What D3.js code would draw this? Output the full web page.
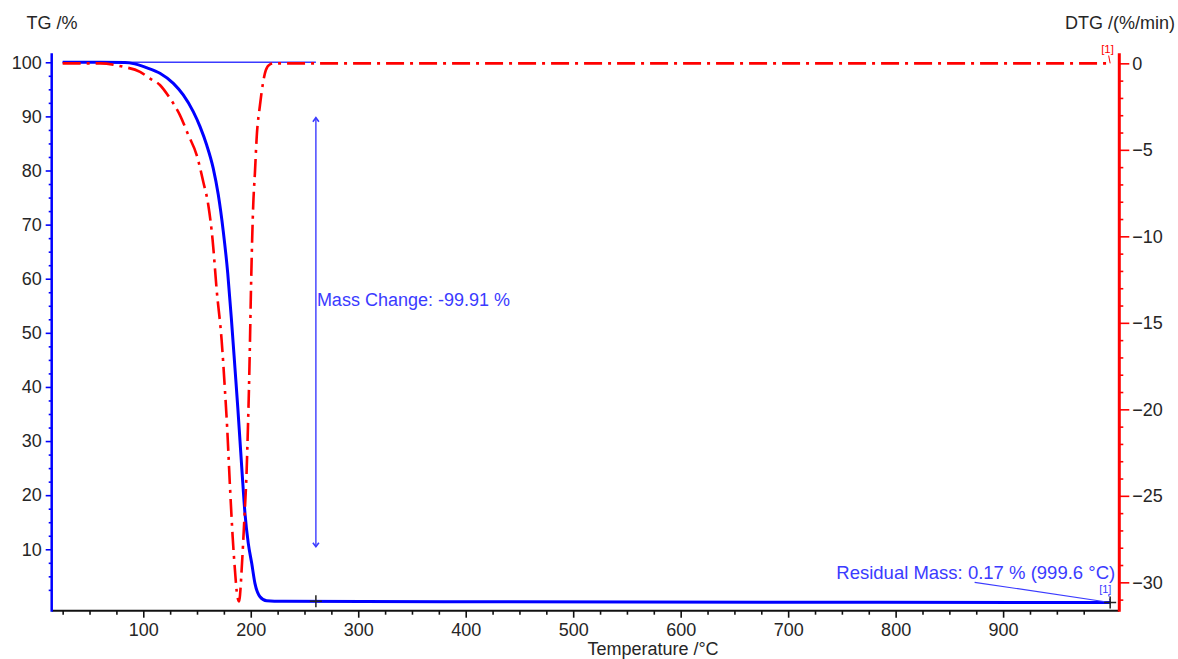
<!DOCTYPE html>
<html>
<head>
<meta charset="utf-8">
<script src="https://cdn.jsdelivr.net/npm/d3@7"></script>
<style>
  html, body { margin: 0; padding: 0; background: #fff; }
  svg { display: block; font-family: "Liberation Sans", Arial, sans-serif; }
</style>
</head>
<body>
<svg id="chart" width="1178" height="659"></svg>
<script>
// ---------------- data ----------------
const tgTemp = [25, 60, 83, 92, 103, 115.5, 128, 137.2, 146.5, 152.8, 159, 165.1, 169.8, 174.4, 178.6, 182.2, 185.3, 188, 190, 192, 194.6, 197.7, 200.9, 203.9, 208.6, 214.8, 230, 400, 700, 1000];
const tgValue = [100, 100, 99.95, 99.7, 99.0, 97.97, 96.1, 93.96, 90.87, 88.1, 84.7, 80.4, 75.5, 68.8, 61.0, 52.0, 43.5, 36.0, 30.0, 24.0, 16.7, 11.1, 7.4, 3.7, 1.24, 0.5, 0.4, 0.3, 0.22, 0.17];

const dtgTemp = [25, 60, 81.4, 97, 106, 115.5, 124.8, 134.1, 141.9, 149.7, 155.8, 160.5, 164.5, 168.3, 172.9, 176, 178, 180.7, 183.2, 185.3, 187.5, 189.3, 190.2, 191.5, 194, 196.2, 197.4, 198.3, 199.3, 200.2, 201.3, 202.3, 203.9, 205.5, 208.6, 211.6, 214, 217.9, 222, 1000];
const dtgValue = [0, 0, -0.2, -0.49, -0.87, -1.25, -2.02, -2.99, -4.14, -5.3, -6.84, -8.19, -10.2, -13.1, -16.0, -18.9, -21.0, -24.5, -27.4, -29.3, -30.8, -31.1, -30.6, -29.3, -26.4, -23.5, -21.0, -18.9, -16.0, -13.1, -10.2, -8.2, -6.3, -4.3, -2.41, -1.06, -0.4, -0.06, 0, 0];

const xMajorTicks = [100, 200, 300, 400, 500, 600, 700, 800, 900];
const tgMajorTicks = [10, 20, 30, 40, 50, 60, 70, 80, 90, 100];
const dtgMajorTicks = [0, -5, -10, -15, -20, -25, -30];

const xDomain = [14.8, 1008.1];
const tgDomain = [-1.35, 101.66];
const dtgDomain = [-31.64, 0.58];

// annotations
const massChangeT = 260.6;
const massChangeFrom = 89.76;
const massChangeTo = 10.48;
const massChangeLabel = "Mass Change: -99.91 %";
const massChangeRefStart = 25;
const residualT = 999.6;
const residualTG = 0.17;
const residualLabel = "Residual Mass: 0.17 % (999.6 °C)";

// ---------------- layout ----------------
const svg = d3.select("#chart");
const L = 51.7, R = 1119.3, T = 53.3, B = 610.7;
const annColor = "#3b3bff";
const textColor = "#262626";

const x = d3.scaleLinear().domain(xDomain).range([L, R]);
const yL = d3.scaleLinear().domain(tgDomain).range([B, T]);
const yR = d3.scaleLinear().domain(dtgDomain).range([B, T]);

// minor tick values
const xMinor = d3.range(25, 1000, 25).filter(v => v % 100 !== 0);
const tgMinor = d3.range(0, 101, 2.5).filter(v => v % 10 !== 0);
const dtgMinor = d3.range(0, -32, -1).filter(v => v % 5 !== 0);

function styleAxis(g, color) {
  g.select(".domain").remove();
  g.selectAll(".tick line").attr("stroke", color).attr("stroke-width", 1.6);
  g.selectAll(".tick text").attr("fill", textColor).attr("font-size", 18)
    .attr("font-family", '"Liberation Sans", Arial, sans-serif');
}

// bottom axis
svg.append("g").attr("transform", `translate(0,${B})`)
  .call(d3.axisBottom(x).tickValues(xMinor).tickSize(4).tickFormat(""))
  .call(g => styleAxis(g, "#111"));
svg.append("g").attr("transform", `translate(0,${B})`)
  .call(d3.axisBottom(x).tickValues(xMajorTicks).tickSize(7).tickPadding(6).tickFormat(d3.format("d")))
  .call(g => styleAxis(g, "#111"));

// left axis
svg.append("g").attr("transform", `translate(${L},0)`)
  .call(d3.axisLeft(yL).tickValues(tgMinor).tickSize(3).tickFormat(""))
  .call(g => styleAxis(g, "#0000ff"));
svg.append("g").attr("transform", `translate(${L},0)`)
  .call(d3.axisLeft(yL).tickValues(tgMajorTicks).tickSize(6).tickPadding(4).tickFormat(d3.format("d")))
  .call(g => styleAxis(g, "#0000ff"));

// right axis
svg.append("g").attr("transform", `translate(${R},0)`)
  .call(d3.axisRight(yR).tickValues(dtgMinor).tickSize(4).tickFormat(""))
  .call(g => styleAxis(g, "#ff0000"));
svg.append("g").attr("transform", `translate(${R},0)`)
  .call(d3.axisRight(yR).tickValues(dtgMajorTicks).tickSize(10).tickPadding(3).tickFormat(d => d === 0 ? "0" : d3.format("d")(d)))
  .call(g => styleAxis(g, "#ff0000"));

// axis lines
svg.append("line").attr("x1", L).attr("x2", R).attr("y1", B).attr("y2", B)
  .attr("stroke", "#111").attr("stroke-width", 2);
svg.append("line").attr("x1", L).attr("x2", L).attr("y1", T).attr("y2", B + 1)
  .attr("stroke", "#0000ff").attr("stroke-width", 2.5);
svg.append("line").attr("x1", R).attr("x2", R).attr("y1", T).attr("y2", B + 1)
  .attr("stroke", "#ff0000").attr("stroke-width", 3);

// axis titles
svg.append("text").attr("x", 26.5).attr("y", 28.5).text("TG /%")
  .attr("font-size", 18).attr("fill", textColor);
svg.append("text").attr("x", 1065).attr("y", 28.5).text("DTG /(%/min)")
  .attr("font-size", 18).attr("fill", textColor);
svg.append("text").attr("x", 653).attr("y", 654.5).attr("text-anchor", "middle")
  .text("Temperature /°C").attr("font-size", 18).attr("fill", textColor);

// mass change reference line at 100 %
svg.append("line")
  .attr("x1", x(massChangeRefStart)).attr("x2", x(massChangeT))
  .attr("y1", yL(100)).attr("y2", yL(100))
  .attr("stroke", annColor).attr("stroke-width", 1.4);

// TG curve
const tgData = tgTemp.map((t, i) => [t, tgValue[i]]);
svg.append("path").datum(tgData)
  .attr("d", d3.line().x(d => x(d[0])).y(d => yL(d[1])).curve(d3.curveMonotoneX))
  .attr("fill", "none").attr("stroke", "#0000ff").attr("stroke-width", 3);

// DTG curve
const dtgData = dtgTemp.map((t, i) => [t, dtgValue[i]]);
svg.append("path").datum(dtgData)
  .attr("d", d3.line().x(d => x(d[0])).y(d => yR(d[1])).curve(d3.curveMonotoneX))
  .attr("fill", "none").attr("stroke", "#ff0000").attr("stroke-width", 2.6)
  .attr("stroke-dasharray", "18,6,3,6");

// mass change arrow
const mx = x(massChangeT), myTop = yL(massChangeFrom), myBot = yL(massChangeTo);
svg.append("line").attr("x1", mx).attr("x2", mx).attr("y1", myTop).attr("y2", myBot)
  .attr("stroke", annColor).attr("stroke-width", 1.4);
svg.append("path").attr("d", `M${mx - 3},${myTop + 4} L${mx},${myTop} L${mx + 3},${myTop + 4}`)
  .attr("fill", "none").attr("stroke", annColor).attr("stroke-width", 1.6);
svg.append("path").attr("d", `M${mx - 3},${myBot - 4} L${mx},${myBot} L${mx + 3},${myBot - 4}`)
  .attr("fill", "none").attr("stroke", annColor).attr("stroke-width", 1.6);
svg.append("text").attr("x", mx + 1).attr("y", yL(55)).text(massChangeLabel)
  .attr("font-size", 18).attr("fill", annColor);

// crosshairs
function cross(cx, cy) {
  svg.append("path").attr("d", `M${cx - 6},${cy} H${cx + 6} M${cx},${cy - 6} V${cy + 6}`)
    .attr("stroke", "#222").attr("stroke-width", 1.5);
}
cross(mx, yL(0.4));
const rx = x(residualT), ry = yL(residualTG);

// residual annotation
svg.append("line").attr("x1", x(873.5)).attr("y1", yL(3.9)).attr("x2", rx).attr("y2", ry)
  .attr("stroke", annColor).attr("stroke-width", 1.2);
svg.append("text").attr("x", rx + 5).attr("y", yL(4.5)).attr("text-anchor", "end")
  .text(residualLabel).attr("font-size", 18.5).attr("fill", annColor);
svg.append("text").attr("x", rx - 11).attr("y", yL(1.9)).text("[1]")
  .attr("font-size", 11).attr("fill", annColor);
svg.append("line").attr("x1", rx - 1.5).attr("y1", yL(1.6)).attr("x2", rx).attr("y2", ry)
  .attr("stroke", annColor).attr("stroke-width", 1).attr("stroke-dasharray", "2,2");
cross(rx, ry);

// DTG marker [1]
svg.append("text").attr("x", rx - 9).attr("y", yR(0.62)).text("[1]")
  .attr("font-size", 11.5).attr("fill", "#ff0000");
svg.append("line").attr("x1", rx - 1.5).attr("y1", yR(0.45)).attr("x2", rx).attr("y2", yR(0))
  .attr("stroke", "#ff0000").attr("stroke-width", 1);
</script>
</body>
</html>
